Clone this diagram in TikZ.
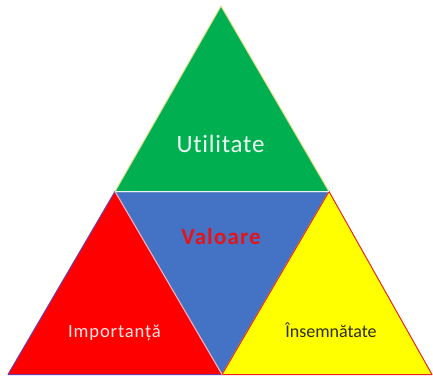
\documentclass[tikz,border=0pt]{standalone}
\usepackage{fontspec}
\setmainfont[Ligatures=NoCommon]{Carlito}
\definecolor{tgreen}{RGB}{0,176,80}
\definecolor{tblue}{RGB}{68,114,196}
\definecolor{tred}{RGB}{255,0,0}
\definecolor{tyellow}{RGB}{255,255,0}
\definecolor{gedge}{RGB}{230,225,140}
\definecolor{redge}{RGB}{110,60,170}
\definecolor{yedge}{RGB}{230,40,30}
\definecolor{vred}{RGB}{230,20,25}
\definecolor{dtext}{RGB}{45,45,25}
\tikzset{
  tri/.style={line width=1pt, line join=round},
  lab/.style={inner sep=0pt, anchor=base}
}
\begin{document}
\begin{tikzpicture}[x=1pt,y=1pt]
\useasboundingbox (0,0) rectangle (433,376);
\fill[white] (0,0) rectangle (433,376);
% vertices
\coordinate (top) at (221,370);
\coordinate (gl) at (115,184.5);
\coordinate (gr) at (329,184.5);
\coordinate (bl) at (8,1.5);
\coordinate (bm) at (222,1.5);
\coordinate (br) at (432,1.5);
% triangles
\draw[tri, fill=tblue, draw=white!85!tblue] (gl) -- (gr) -- (bm) -- cycle;
\draw[tri, fill=tgreen, draw=gedge] (top) -- (gr) -- (gl) -- cycle;
\draw[tri, fill=tred, draw=redge] (gl) -- (bl) -- (bm) -- cycle;
\draw[tri, fill=tyellow, draw=yedge] (gr) -- (bm) -- (br) -- cycle;
\draw[line width=1.2pt, white!90!tblue] (gl) -- (gr);
\draw[line width=1pt, white!70!tred] (gl) -- (bm);
% labels
\node[lab, text=white!92!tgreen, font=\addfontfeature{LetterSpace=3}\fontsize{25}{28}\selectfont] (util) at (220.5,224) {Utilitate};
\node[lab, text=vred, font=\addfontfeature{LetterSpace=5}\bfseries\fontsize{23}{26}\selectfont] (val) at (221,132) {Valoare};
\node[lab, text=white!90!tred, font=\addfontfeature{LetterSpace=4.5}\fontsize{18.6}{22}\selectfont] (imp) at (114.5,39) {Importanță};
\node[lab, text=dtext, font=\fontsize{18}{21}\selectfont] (ins) at (331,39) {Însemnătate};
\end{tikzpicture}
\end{document}
